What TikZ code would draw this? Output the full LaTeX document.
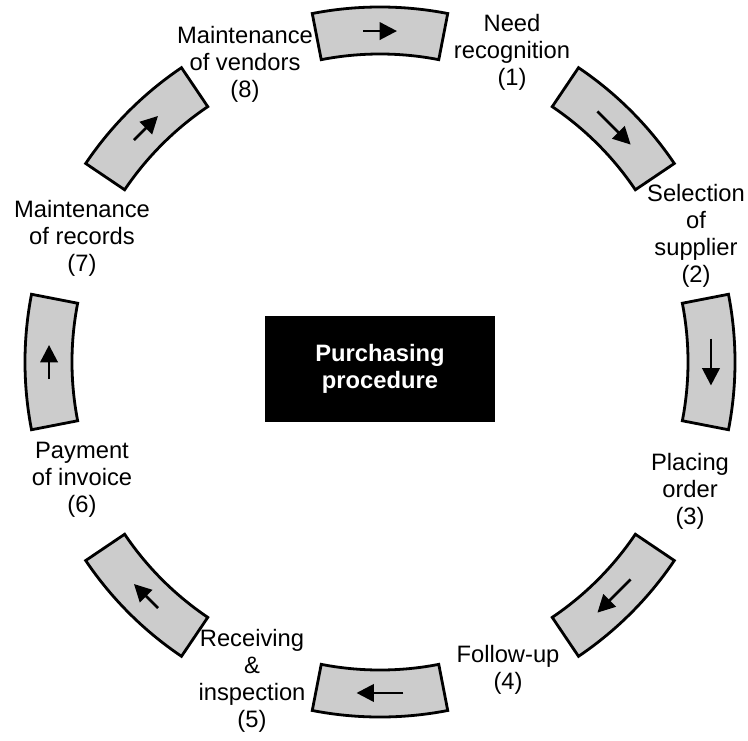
\documentclass[tikz,border=0pt]{standalone}
\usepackage{fontspec}
\setmainfont{Liberation Sans}
\usetikzlibrary{arrows.meta}

\begin{document}
\begin{tikzpicture}[x=0.75pt,y=0.75pt,
 font=\fontsize{17.8pt}{20.2pt}\selectfont,
 seg/.style={draw=black,line width=2.1pt,fill=black!20,line join=miter},
 a/.style={-{Triangle[length=13pt,width=13pt]},line width=2pt},
 lab/.style={align=center,inner sep=0pt},
 box/.style={fill=black,text=white,font=\fontsize{17.8pt}{20.2pt}\selectfont\bfseries,
 align=center,minimum width=172.5pt,minimum height=79.5pt}]
\useasboundingbox (-380,-378) rectangle (368,362);
\node[box] (pp) at (0,-7) {Purchasing\\procedure};
% ring of steps, clockwise from the top
\draw[seg] (79:355) arc[start angle=79,end angle=101,radius=266.25pt] -- (101:308) arc[start angle=101,end angle=79,radius=231pt] -- cycle;
\draw[seg] (34:355) arc[start angle=34,end angle=56,radius=266.25pt] -- (56:308) arc[start angle=56,end angle=34,radius=231pt] -- cycle;
\draw[seg] (-11:355) arc[start angle=-11,end angle=11,radius=266.25pt] -- (11:308) arc[start angle=11,end angle=-11,radius=231pt] -- cycle;
\draw[seg] (-56:355) arc[start angle=-56,end angle=-34,radius=266.25pt] -- (-34:308) arc[start angle=-34,end angle=-56,radius=231pt] -- cycle;
\draw[seg] (-101:355) arc[start angle=-101,end angle=-79,radius=266.25pt] -- (-79:308) arc[start angle=-79,end angle=-101,radius=231pt] -- cycle;
\draw[seg] (-146:355) arc[start angle=-146,end angle=-124,radius=266.25pt] -- (-124:308) arc[start angle=-124,end angle=-146,radius=231pt] -- cycle;
\draw[seg] (169:355) arc[start angle=169,end angle=191,radius=266.25pt] -- (191:308) arc[start angle=191,end angle=169,radius=231pt] -- cycle;
\draw[seg] (124:355) arc[start angle=124,end angle=146,radius=266.25pt] -- (146:308) arc[start angle=146,end angle=124,radius=231pt] -- cycle;
% arrows inside the steps
\draw[a] (92.94:331.4) -- (87.06:331.4);
\draw[a] (49.06:331.8) -- (40.94:331.8);
\draw[a] (4.06:331.8) -- (-4.06:331.8);
\draw[a] (-40.94:331.8) -- (-49.06:331.8);
\draw[a] (-85.94:331.8) -- (-94.06:331.8);
\draw[a] (-132.06:331.4) -- (-137.94:331.4);
\draw[a] (182.94:331.4) -- (177.06:331.4);
\draw[a] (137.94:331.4) -- (132.06:331.4);
% step labels
\node[lab] (s1) at (132,310) {Need\\recognition\\(1)};
\node[lab] (s2) at (316,126) {Selection\\of\\supplier\\(2)};
\node[lab] (s3) at (310,-129) {Placing\\order\\(3)};
\node[lab] (s4) at (128,-308) {Follow-up\\(4)};
\node[lab] (s5) at (-128,-319) {Receiving\\\&\\inspection\\(5)};
\node[lab] (s6) at (-298,-118) {Payment\\of invoice\\(6)};
\node[lab] (s7) at (-298,124) {Maintenance\\of records\\(7)};
\node[lab] (s8) at (-135,298) {Maintenance\\of vendors\\(8)};
\end{tikzpicture}
\end{document}
